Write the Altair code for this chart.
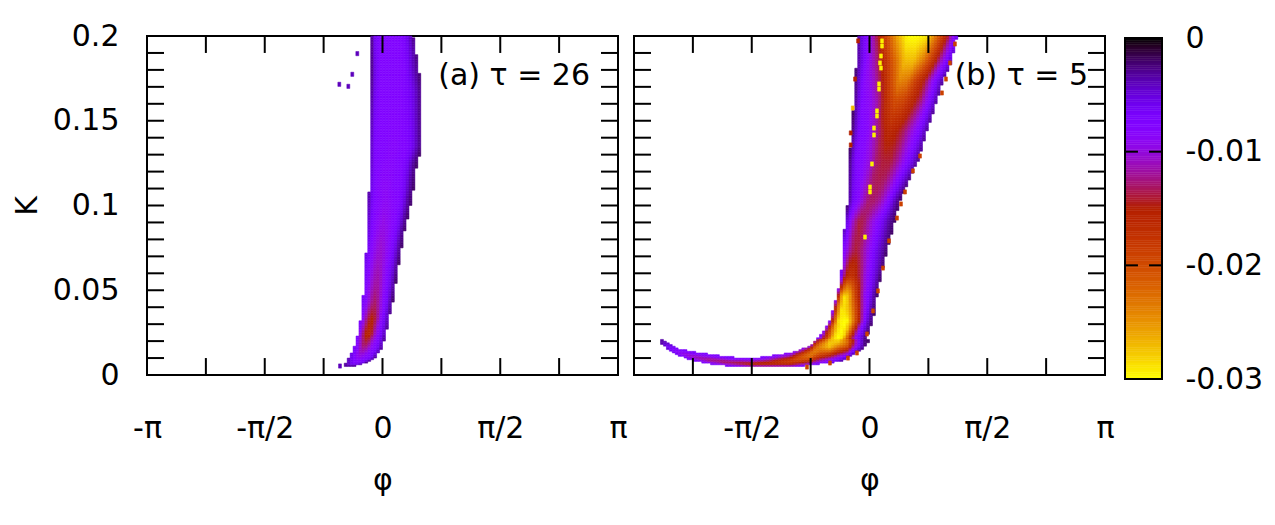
import numpy as np
import pandas as pd
import altair as alt

PI = np.pi

# ---------------- data ----------------
# Panel (a): anchor rows (K, left edge phi, right edge phi) and value profile
# across the band (magnitude in units of 1e-3, value = -p/1000)
A_K = [0.0053, 0.0071, 0.0100, 0.0159, 0.0242, 0.0336, 0.0437, 0.0631,
       0.0832, 0.1009, 0.1115, 0.1245, 0.1351, 0.1676, 0.1794, 0.2000]
A_L = [-0.527, -0.487, -0.447, -0.380, -0.327, -0.287, -0.260, -0.233,
       -0.193, -0.180, -0.175, -0.167, -0.167, -0.153, -0.153, -0.153]
A_R = [-0.367, -0.233, -0.100, -0.007, 0.047, 0.087, 0.140, 0.207,
       0.287, 0.380, 0.420, 0.460, 0.527, 0.527, 0.487, 0.407]
A_P = [
    [3, 3, 3, 3, 3, 3, 3, 3, 3, 3, 3],
    [3, 4, 5, 6, 7, 7, 7, 7, 6, 5, 3],
    [4, 6, 7.5, 8.5, 9, 8.5, 8, 7.5, 7, 5, 3],
    [6.5, 8, 10, 12, 12, 11, 9, 8, 7, 5, 3],
    [7, 10, 13, 15.5, 16, 14, 11, 9, 7, 5, 3],
    [7, 9, 12, 14, 15, 14, 12, 9, 7, 5, 3],
    [6.5, 8, 10, 12, 13, 12, 10, 8, 6.5, 4, 2],
    [6, 7.5, 9, 10.5, 11, 10.5, 9, 7.5, 6, 4, 2],
    [5, 7, 8.5, 9.5, 10, 9.5, 8.5, 7.5, 6, 3.5, 2],
    [4, 7, 8, 8.5, 9, 8.5, 8, 7.5, 6, 3.5, 2],
    [3.5, 7, 8, 8.5, 8.5, 8, 7.5, 7.5, 6, 3.5, 2],
    [3, 7, 7.5, 8, 8, 8, 7.5, 7.5, 6, 3.5, 2],
    [3, 7, 7.5, 7.5, 8, 8, 7.5, 7.5, 6.5, 4, 2],
    [2.5, 6.5, 7.5, 7.5, 7.5, 7.5, 7.5, 7, 6, 4, 2],
    [2, 6, 7.5, 7.5, 7.5, 7.5, 7.5, 7.5, 6, 4, 2.5],
    [2, 6, 7.5, 7.5, 7.5, 7.5, 7.5, 7.5, 7, 5, 3],
]
A_DOT_PHI = [-0.336, -0.403, -0.576, -0.456, -0.567]
A_DOT_K = [0.1896, 0.1774, 0.1715, 0.1703, 0.0053]
A_DOT_P = [4, 4, 4, 4, 4]

# Panel (b), upper part: anchor rows
B_K = [0.0212, 0.0230, 0.0319, 0.0466, 0.0584, 0.0732, 0.0909, 0.1027,
       0.1263, 0.1440, 0.1617, 0.1735, 0.1853, 0.2000]
B_L = [-0.700, -0.660, -0.527, -0.434, -0.380, -0.354, -0.327, -0.287,
       -0.273, -0.233, -0.207, -0.193, -0.167, -0.153]
B_R = [-0.047, -0.033, 0.047, 0.100, 0.153, 0.233, 0.340, 0.407,
       0.647, 0.767, 0.900, 0.980, 1.100, 1.167]
B_P = [
    [7, 13, 20, 27, 30, 29, 22, 14, 8, 5, 2],
    [7, 14, 21, 28, 30, 29, 22, 14, 8, 5, 2],
    [8, 20, 29, 30, 30, 26, 20, 14, 8, 4, 2],
    [10, 25, 29, 27, 22, 17, 13, 9, 7, 4, 2],
    [6, 14, 17, 17, 15, 13, 10, 8, 6, 4, 2],
    [7, 10, 13, 14, 13, 11, 9, 7, 5, 3.5, 2],
    [3, 8, 12, 14, 13, 11, 9, 7, 5, 3, 2],
    [2, 6, 8, 11, 13, 13, 12, 10, 7, 4, 2],
    [2, 7, 8, 10, 13, 14, 14, 12, 9, 6, 3],
    [2, 7, 8, 11, 14, 16, 15, 13, 10, 7, 3],
    [2, 7.5, 9, 12, 17, 20, 19, 16, 13, 8, 3],
    [2, 8, 10, 14, 19, 24, 23, 18, 14, 8, 3],
    [2.5, 8, 12, 17, 22, 27, 27, 23, 17, 10, 4],
    [3, 8, 14, 20, 26, 30, 30, 29, 22, 15, 6],
]
# Panel (b), lower tail: anchor columns (phi, bottom K, top K) and profile bottom->top
C_PHI = [-2.795, -2.768, -2.661, -2.528, -2.355, -2.128, -1.861, -1.568,
         -1.327, -1.061, -0.781, -0.720, -0.660, -0.527, -0.420, -0.300,
         -0.127, -0.047, 0.007]
C_KB = [0.0195, 0.0183, 0.0142, 0.0112, 0.0083, 0.0065, 0.0053, 0.0047,
        0.0047, 0.0047, 0.0059, 0.0062, 0.0065, 0.0071, 0.0077, 0.0094,
        0.0142, 0.0171, 0.0212]
C_KT = [0.0205, 0.0207, 0.0177, 0.0153, 0.0136, 0.0124, 0.0106, 0.0100,
        0.0112, 0.0130, 0.0171, 0.0201, 0.0212, 0.0212, 0.0212, 0.0212,
        0.0212, 0.0212, 0.0212]
C_P = [
    [3, 3, 3, 3, 3, 3, 3],
    [3.5, 3.5, 3.5, 3.5, 3.5, 3.5, 3.5],
    [5, 6, 7, 7, 7, 6, 5],
    [6, 7.5, 8.5, 9, 8.5, 7.5, 7],
    [7, 8, 10, 11, 10, 8, 7],
    [7, 9, 12, 12, 10, 8, 7],
    [7, 10, 13, 13, 11, 8, 7],
    [8, 12, 15, 14, 11, 8, 7],
    [8, 13, 16, 15, 12, 9, 7],
    [8, 14, 18, 18, 15, 11, 8],
    [7, 14, 20, 23, 22, 17, 10],
    [6, 13, 19, 23, 23, 19, 12],
    [6, 12, 18, 22, 24, 22, 14],
    [6, 10, 16, 22, 27, 28, 26],
    [4, 8, 13, 18, 23, 27, 29],
    [3, 7, 12, 17, 21, 23, 23],
    [3, 4, 5, 6, 6, 6, 6],
    [2, 2, 2, 2, 2, 2, 2],
    [2, 2, 2, 2, 2, 2, 2],
]
# isolated cells in panel (b)
B_DOT_PHI = [0.167, 0.167, 0.153, 0.140, 0.153, 0.127, 0.127, 0.100, 0.100,
             0.060, 0.060, 0.033, 0.007, 0.007, -0.060, -0.224,
             1.140, 1.074, 1.020, 0.967, 0.674, 0.580, 0.474, 0.420, 0.367,
             0.260, 0.180, 0.113, 0.047, -0.033, -0.167, -0.287, -0.527, -0.834,
             -0.153, -0.193, -0.251, -0.251]
B_DOT_K = [0.1971, 0.1941, 0.1882, 0.1841, 0.1811, 0.1717, 0.1687, 0.1558, 0.1528,
           0.1457, 0.1416, 0.1245, 0.1109, 0.1080, 0.0814, 0.1575,
           0.1953, 0.1841, 0.1746, 0.1664, 0.1292, 0.1204, 0.1080, 0.1009, 0.0926,
           0.0791, 0.0631, 0.0496, 0.0378, 0.0242, 0.0130, 0.0100, 0.0071, 0.0047,
           0.1971, 0.1746, 0.1428, 0.1357]
B_DOT_P = [29.5] * 15 + [27] + [19] * 18 + [15] * 4

X_LABEL_VALUES_A = [-PI, -PI / 2, 0, PI / 2, PI]
X_LABEL_VALUES_B = [-PI / 2, 0, PI / 2, PI]
X_TICKS = [-3 * PI / 4, -PI / 2, -PI / 4, 0, PI / 4, PI / 2, 3 * PI / 4]
Y_LABEL_VALUES = [0, 0.05, 0.1, 0.15, 0.2]
Y_TICKS = [round(0.01 * i, 2) for i in range(1, 20)]
CB_DOMAIN = [-0.03, 0]
CB_LABEL_VALUES = [0, -0.01, -0.02, -0.03]
CB_TICKS = [-0.01, -0.02]
PANEL_TEXT = ["(a) τ = 26", "(b) τ = 5"]

# ---------------- grid construction ----------------
NPHI, DPHI = 160, 2 * PI / 160
DK = 0.001
NK = 200
SPLIT = 0.0212
S11 = np.linspace(0, 1, 11)
S7 = np.linspace(0, 1, 7)


def rows_cells(Ks, Ls, Rs, Ps):
    Ks = np.array(Ks); Ls = np.array(Ls); Rs = np.array(Rs); Ps = np.array(Ps, float)
    out = []
    for j in range(NK):
        kc = (j + 0.5) * DK
        if kc < Ks[0] - 1e-9 or kc > Ks[-1]:
            continue
        L = np.interp(kc, Ks, Ls)
        R = np.interp(kc, Ks, Rs)
        prof = [np.interp(kc, Ks, Ps[:, m]) for m in range(Ps.shape[1])]
        for i in range(NPHI):
            pc = -PI + (i + 0.5) * DPHI
            if pc < L or pc > R:
                continue
            s = (pc - L) / max(R - L, 1e-9)
            p = np.interp(s, S11, prof)
            out.append((pc - DPHI / 2, pc + DPHI / 2, kc - DK / 2, kc + DK / 2, -p / 1000))
    return out


def cols_cells(Ph, Kb, Kt, Ps):
    Ph = np.array(Ph); Kb = np.array(Kb); Kt = np.array(Kt); Ps = np.array(Ps, float)
    out = []
    for i in range(NPHI):
        pc = -PI + (i + 0.5) * DPHI
        if pc < Ph[0] or pc > Ph[-1]:
            continue
        kb = np.interp(pc, Ph, Kb)
        kt = np.interp(pc, Ph, Kt)
        prof = [np.interp(pc, Ph, Ps[:, m]) for m in range(Ps.shape[1])]
        for j in range(NK):
            kc = (j + 0.5) * DK
            if kc < kb or kc > kt or kc >= SPLIT - 1e-9:
                continue
            s = (kc - kb) / max(kt - kb, 1e-9)
            p = np.interp(s, S7, prof)
            out.append((pc - DPHI / 2, pc + DPHI / 2, kc - DK / 2, kc + DK / 2, -p / 1000))
    return out


def dot_cells(phis, ks, ps):
    return [(f - DPHI / 2, f + DPHI / 2, k - 0.00125, k + 0.00125, -p / 1000)
            for f, k, p in zip(phis, ks, ps)]


cols = ["x", "x2", "y", "y2", "v"]
dfa = pd.DataFrame(rows_cells(A_K, A_L, A_R, A_P) + dot_cells(A_DOT_PHI, A_DOT_K, A_DOT_P), columns=cols)
dfb = pd.DataFrame(rows_cells(B_K, B_L, B_R, B_P) + cols_cells(C_PHI, C_KB, C_KT, C_P)
                   + dot_cells(B_DOT_PHI, B_DOT_K, B_DOT_P), columns=cols)
for d in (dfa, dfb):
    d["v"] = d["v"].clip(-0.03, 0)
    for c in cols:
        d[c] = d[c].round(5)


# gnuplot default palette (rgbformulae 7,5,15), black at 0, yellow at -0.03
def pal(t):
    r = np.sqrt(t); g = t ** 3; b = max(0.0, np.sin(2 * PI * t))
    return "#%02x%02x%02x" % (int(round(r * 255)), int(round(g * 255)), int(round(b * 255)))


TS = np.linspace(1, 0, 41)
CDOM = [round(-0.03 * t, 6) for t in TS]
CRANGE = [pal(t) for t in TS]
cscale = alt.Scale(domain=CDOM, range=CRANGE, interpolate="rgb", clamp=True)

TLX = 0.01   # tick length in K units (~17 px)
TLP = 0.227  # tick length in phi units (~17 px)
tick_rows = []
for t in X_TICKS:
    tick_rows.append((t, t, 0, TLX))
    tick_rows.append((t, t, 0.2 - TLX, 0.2))
for t in Y_TICKS:
    tick_rows.append((-PI, -PI + TLP, t, t))
    tick_rows.append((PI - TLP, PI, t, t))
dft = pd.DataFrame(tick_rows, columns=["x", "x2", "y", "y2"])

FONT = "DejaVu Sans"
XLAB = ("abs(datum.value) < 0.01 ? '0' : datum.value < -3 ? '-π' : "
        "datum.value < -1 ? '-π/2' : datum.value < 3 ? 'π/2' : 'π'")


def panel(df, xvals, show_y, text, tx):
    xenc = alt.X("x:Q", scale=alt.Scale(domain=[-PI, PI], nice=False, zero=False),
                 axis=alt.Axis(values=xvals, labelExpr=XLAB, title="φ", labelPadding=38,
                               titlePadding=22, labelFlush=False, labelOverlap=False))
    if show_y:
        yaxis = alt.Axis(values=Y_LABEL_VALUES, format="~g", title="K", labelPadding=28,
                         titlePadding=10, labelFlush=False, labelOverlap=False)
    else:
        yaxis = None
    yenc = alt.Y("y:Q", scale=alt.Scale(domain=[0, 0.2], nice=False, zero=False), axis=yaxis)
    heat = alt.Chart(df).mark_rect(strokeWidth=0.5).encode(
        x=xenc, x2="x2:Q", y=yenc, y2="y2:Q",
        color=alt.Color("v:Q", scale=cscale, legend=None),
        stroke=alt.Stroke("v:Q", scale=cscale, legend=None),
    )
    ticks = alt.Chart(dft).mark_rule(color="black", strokeWidth=2).encode(
        x=xenc, x2="x2:Q", y=yenc, y2="y2:Q")
    lab = alt.Chart(pd.DataFrame({"t": [text]})).mark_text(
        align="right", baseline="middle", font=FONT, fontSize=30, color="black"
    ).encode(text="t:N", x=alt.value(tx), y=alt.value(40))
    return alt.layer(heat, ticks, lab).properties(width=471, height=339)


pa = panel(dfa, X_LABEL_VALUES_A, True, PANEL_TEXT[0], 443)
pb = panel(dfb, X_LABEL_VALUES_B, False, PANEL_TEXT[1], 454)

# colour bar
CB_STEP = 0.0002
cbv = np.arange(CB_DOMAIN[0], CB_DOMAIN[1], CB_STEP)
dfc = pd.DataFrame({"x": 0.0, "x2": 1.0, "y": cbv, "y2": cbv + CB_STEP, "v": cbv + CB_STEP / 2})
cb_ticks = []
for t in CB_TICKS:
    cb_ticks.append((0.0, 0.35, t, t))
    cb_ticks.append((0.65, 1.0, t, t))
dfct = pd.DataFrame(cb_ticks, columns=["x", "x2", "y", "y2"])
dfcb = pd.DataFrame({"x": [0.0], "x2": [1.0], "y": [CB_DOMAIN[0]], "y2": [CB_DOMAIN[1]]})
cbx = alt.X("x:Q", scale=alt.Scale(domain=[0, 1], nice=False, zero=False, range=[4, 41]), axis=None)
cby = alt.Y("y:Q", scale=alt.Scale(domain=CB_DOMAIN, nice=False, zero=False, range=[343, 2]),
            axis=alt.Axis(orient="right", values=CB_LABEL_VALUES, labelPadding=23,
                          labelExpr="datum.value == 0 ? '0' : '-' + format(-datum.value, '.2f')",
                          title=None, labelFlush=False, labelOverlap=False))
cb = alt.layer(
    alt.Chart(dfc).mark_rect(strokeWidth=0.5).encode(
        x=cbx, x2="x2:Q", y=cby, y2="y2:Q",
        color=alt.Color("v:Q", scale=cscale, legend=None),
        stroke=alt.Stroke("v:Q", scale=cscale, legend=None)),
    alt.Chart(dfct).mark_rule(color="black", strokeWidth=2).encode(
        x=cbx, x2="x2:Q", y=cby, y2="y2:Q"),
    alt.Chart(dfcb).mark_rect(fillOpacity=0, stroke="black", strokeWidth=2).encode(
        x=cbx, x2="x2:Q", y=cby, y2="y2:Q"),
).properties(width=41, height=343, view=alt.ViewBackground(strokeOpacity=0))

chart = alt.hconcat(pa, pb, cb, spacing=16, bounds="flush").configure_view(
    stroke="black", strokeWidth=2).configure_axis(
    labelFont=FONT, labelFontSize=30, titleFont=FONT, titleFontSize=30,
    titleFontWeight="normal", labelColor="black", titleColor="black",
    grid=False, domain=False, ticks=False, tickSize=0,
).properties(padding={"left": 3, "top": 12, "right": 0, "bottom": 0}, background="white")

chart.save("out.html", embed_options={"renderer": "svg", "actions": False})
